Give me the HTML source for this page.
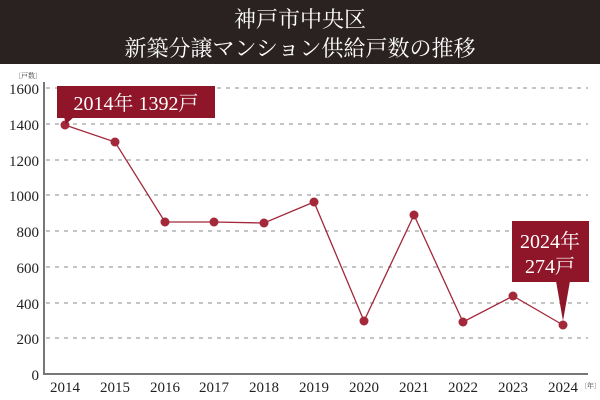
<!DOCTYPE html>
<html><head><meta charset="utf-8"><style>
body{margin:0;width:600px;height:400px;background:#fff;overflow:hidden}
svg{display:block}
</style></head><body>
<svg width="600" height="400" xmlns="http://www.w3.org/2000/svg" font-family="'Liberation Serif','Noto Serif CJK SC',serif">
<rect x="0" y="0" width="600" height="64" fill="#2a2220"/>
<text x="300" y="27" fill="#fff" font-size="22" text-anchor="middle">神戸市中央区</text>
<text x="300" y="56" fill="#fff" font-size="22" text-anchor="middle">新築分譲マンション供給戸数の推移</text>
<text x="14" y="78" font-size="7" fill="#333">〔戸数〕</text>
<g stroke="#888" stroke-width="1" stroke-dasharray="4,5">
<line x1="46" y1="88" x2="588" y2="88"/><line x1="46" y1="124" x2="588" y2="124"/>
<line x1="46" y1="160" x2="588" y2="160"/><line x1="46" y1="195" x2="588" y2="195"/>
<line x1="46" y1="231" x2="588" y2="231"/><line x1="46" y1="267" x2="588" y2="267"/>
<line x1="46" y1="303" x2="588" y2="303"/><line x1="46" y1="338" x2="588" y2="338"/>
</g>
<line x1="44" y1="82" x2="44" y2="375" stroke="#777" stroke-width="2"/>
<line x1="43" y1="374" x2="588" y2="374" stroke="#777" stroke-width="2"/>
<g font-size="15" fill="#222" text-anchor="end">
<text x="39" y="94">1600</text><text x="39" y="130">1400</text><text x="39" y="166">1200</text>
<text x="39" y="201">1000</text><text x="39" y="237">800</text><text x="39" y="273">600</text>
<text x="39" y="309">400</text><text x="39" y="344">200</text><text x="39" y="380">0</text>
</g>
<g font-size="15" fill="#222" text-anchor="middle">
<text x="65" y="392">2014</text><text x="115" y="392">2015</text><text x="165" y="392">2016</text>
<text x="214" y="392">2017</text><text x="264" y="392">2018</text><text x="314" y="392">2019</text>
<text x="364" y="392">2020</text><text x="414" y="392">2021</text><text x="463" y="392">2022</text>
<text x="513" y="392">2023</text><text x="563" y="392">2024</text>
</g>
<text x="580" y="388" font-size="7" fill="#333">〔年〕</text>
<polyline fill="none" stroke="#a2283a" stroke-width="1.3" points="65,125 115,142 165,222 214,222 264,223 314,202 364,321 414,215 463,322 513,296 563,325"/>
<g fill="#a2283a">
<circle cx="65" cy="125" r="4.5"/><circle cx="115" cy="142" r="4.5"/><circle cx="165" cy="222" r="4.5"/>
<circle cx="214" cy="222" r="4.5"/><circle cx="264" cy="223" r="4.5"/><circle cx="314" cy="202" r="4.5"/>
<circle cx="364" cy="321" r="4.5"/><circle cx="414" cy="215" r="4.5"/><circle cx="463" cy="322" r="4.5"/>
<circle cx="513" cy="296" r="4.5"/><circle cx="563" cy="325" r="4.5"/>
</g>
<g fill="#8e1628">
<rect x="57" y="86" width="158" height="32"/>
<polygon points="64,117 74,117 66,124"/>
<rect x="512" y="221" width="77" height="61"/>
<polygon points="556,281 570,281 563,321"/>
</g>
<text x="136" y="110" fill="#fff" font-size="20" text-anchor="middle">2014年 1392戸</text>
<text x="550" y="248" fill="#fff" font-size="20" text-anchor="middle">2024年</text>
<text x="550" y="273" fill="#fff" font-size="20" text-anchor="middle">274戸</text>
</svg>
</body></html>
